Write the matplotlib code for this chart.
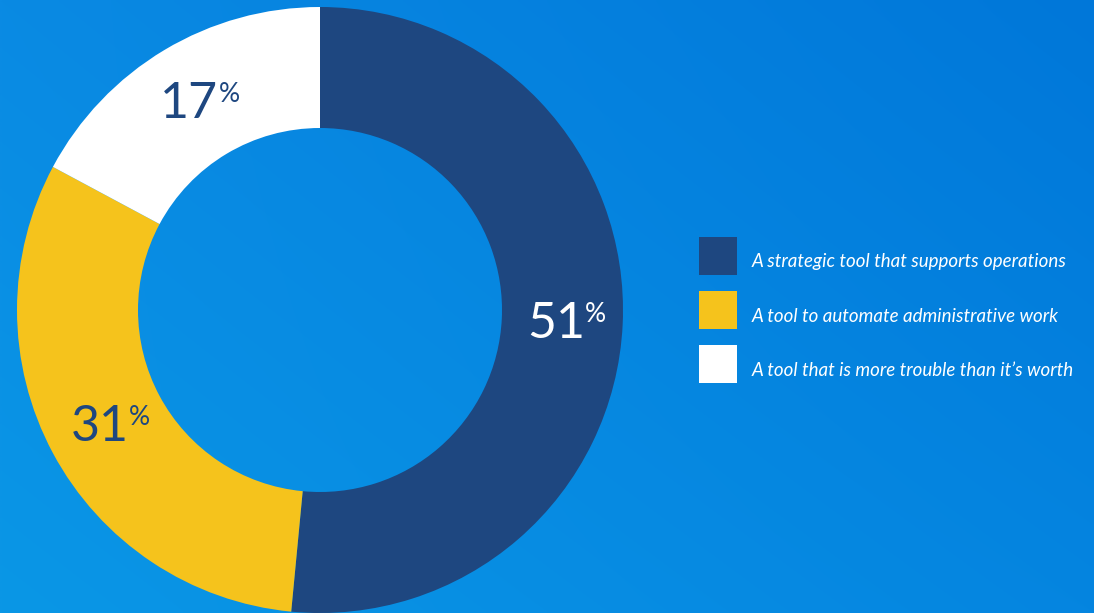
import numpy as np
import matplotlib
matplotlib.use("Agg")
import matplotlib.pyplot as plt

labels = ["A strategic tool that supports operations",
          "A tool to automate administrative work",
          "A tool that is more trouble than it\u2019s worth"]
values = [51, 31, 17]
colors = ["#1e4780", "#f5c31c", "#ffffff"]
pct_colors = ["#ffffff", "#1e4780", "#1e4780"]

plt.rcParams["font.family"] = ["Lato", "DejaVu Sans"]

W, H = 1094, 613
fig = plt.figure(figsize=(W / 100, H / 100), dpi=100)

# background gradient (bilinear between corner colours)
bg = fig.add_axes([0, 0, 1, 1], zorder=0)
corners = np.array([[[0x0a, 0x8a, 0xe3], [0x00, 0x77, 0xd9]],
                    [[0x0a, 0x97, 0xe6], [0x05, 0x85, 0xe0]]]) / 255.0
yy, xx = np.mgrid[0:1:200j, 0:1:360j]
img = (corners[0, 0] * ((1 - xx) * (1 - yy))[..., None]
       + corners[0, 1] * (xx * (1 - yy))[..., None]
       + corners[1, 0] * ((1 - xx) * yy)[..., None]
       + corners[1, 1] * (xx * yy)[..., None])
bg.imshow(img, aspect="auto", extent=(0, W, H, 0), interpolation="bilinear")
bg.set_axis_off()

ax = fig.add_axes([0, 0, 1, 1], zorder=1)
ax.patch.set_alpha(0)
cx, cy, r_out, r_in = 320, H - 310, 303, 182
wedges, _ = ax.pie(values, colors=colors, startangle=90, counterclock=False,
                   center=(cx, cy), radius=r_out,
                   wedgeprops=dict(width=r_out - r_in, linewidth=0))
ax.set_xlim(0, W)
ax.set_ylim(0, H)
ax.set_aspect("auto")
ax.set_axis_off()

r_lab = (r_out + r_in) / 2
for w, v, c in zip(wedges, values, pct_colors):
    ang = np.deg2rad((w.theta1 + w.theta2) / 2)
    x = cx + r_lab * np.cos(ang)
    y = cy + r_lab * np.sin(ang)
    t = ax.text(x - 6, y - 2, str(v), ha="center", va="center",
                fontsize=36, color=c)
    ax.annotate("%", xy=(1, 1), xycoords=t, xytext=(0, -1),
                textcoords="offset points", ha="left", va="top",
                fontsize=19, color=c)

# legend
for i, (lab, col) in enumerate(zip(labels, colors)):
    top = 237 + i * 54
    ax.add_patch(plt.Rectangle((699, H - top - 38), 38, 38, color=col, lw=0))
    ax.text(752, H - top - 25, lab, ha="left", va="center", fontsize=13.5,
            style="italic", color="white")

fig.savefig("out.png", dpi=100)
